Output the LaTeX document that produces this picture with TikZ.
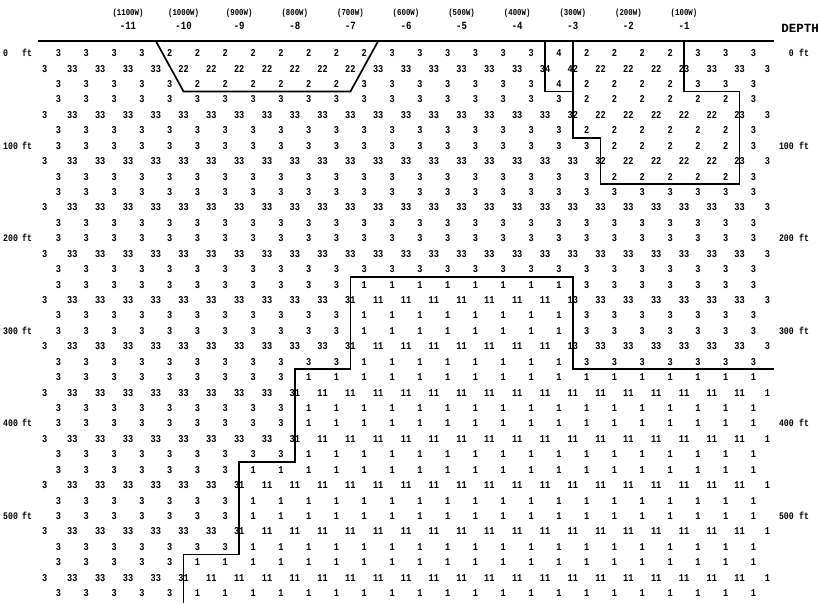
\documentclass[tikz,border=0pt]{standalone}
\usepackage{fontspec}
\setmonofont{Liberation Mono}
\newfontfamily\cellfont{Liberation Mono}[FakeStretch=0.82]
\newcounter{colidx}
% S row: element values (26 columns), #2 = list of value/count
\newcommand\Srow[2]{%
  \setcounter{colidx}{0}%
  \foreach \v/\n in {#2}{%
    \foreach \i in {1,...,\n}{%
      \node[cell] (s#1c\arabic{colidx}) at ({58.5+27.8*\arabic{colidx}},{53+15.43*#1}) {\v};%
      \stepcounter{colidx}%
    }%
  }%
}
% D row: node pair values (27 columns)
\newcommand\Drow[2]{%
  \setcounter{colidx}{0}%
  \foreach \v/\n in {#2}{%
    \foreach \i in {1,...,\n}{%
      \node[cell] (d#1c\arabic{colidx}) at ({44.6+27.8*\arabic{colidx}},{53+15.43*#1}) {\v};%
      \stepcounter{colidx}%
    }%
  }%
}
\tikzset{
  cell/.style={font=\cellfont\bfseries\fontsize{10.5}{10.5}\selectfont, inner sep=0pt, text height=7.2pt, text depth=0pt, anchor=center},
  lab/.style={font=\cellfont\bfseries\fontsize{10}{10}\selectfont, inner sep=0pt, text height=7pt, text depth=0pt},
  hdr/.style={font=\cellfont\bfseries\fontsize{9}{9}\selectfont, inner sep=0pt},
  hdrnum/.style={font=\cellfont\bfseries\fontsize{11}{11}\selectfont, inner sep=0pt},
  boundary/.style={line width=1.7pt, line join=miter, black}
}
\begin{document}
\begin{tikzpicture}[x=1pt,y=-1pt]
\fill[white] (0,0) rectangle (819,603);
\useasboundingbox (0,0) rectangle (819,603);
% column headers
\foreach \lab/\num [count=\j from 0] in {1100/11,1000/10,900/9,800/8,700/7,600/6,500/5,400/4,300/3,200/2,100/1}{
  \node[hdr] (h\j) at ({44.6+27.8*(3+2*\j)},13) {(\lab W)};
  \node[hdrnum] (hn\j) at ({44.6+27.8*(3+2*\j)},26) {-\num};
}
\node[font=\ttfamily\bfseries\fontsize{12.5}{12.5}\selectfont, inner sep=0pt, anchor=east] (depth) at (819,28) {DEPTH};
% depth labels
\foreach \d/\r in {0/0,100/6,200/12,300/18,400/24,500/30}{
  \node[lab, anchor=west] (dl\r) at (3,{53+15.43*\r}) {\d};
  \node[lab, anchor=west] (dlf\r) at (22,{53+15.43*\r}) {ft};
  \node[lab, anchor=east] (dr\r) at (794,{53+15.43*\r}) {\d};
  \node[lab, anchor=west] (drf\r) at (799,{53+15.43*\r}) {ft};
}
% grid of values
\Srow{0}{3/4,2/8,3/6,4/1,2/4,3/3}
\Drow{1}{3/1,33/4,22/7,33/6,34/1,42/1,22/3,23/1,33/2,3/1}
\Srow{2}{3/5,2/6,3/7,4/1,2/4,3/3}
\Srow{3}{3/19,2/6,3/1}
\Drow{4}{3/1,33/18,32/1,22/5,23/1,3/1}
\Srow{5}{3/19,2/6,3/1}
\Srow{6}{3/20,2/5,3/1}
\Drow{7}{3/1,33/19,32/1,22/4,23/1,3/1}
\Srow{8}{3/20,2/5,3/1}
\Srow{9}{3/26}
\Drow{10}{3/1,33/25,3/1}
\Srow{11}{3/26}
\Srow{12}{3/26}
\Drow{13}{3/1,33/25,3/1}
\Srow{14}{3/26}
\Srow{15}{3/11,1/8,3/7}
\Drow{16}{3/1,33/10,31/1,11/7,13/1,33/6,3/1}
\Srow{17}{3/11,1/8,3/7}
\Srow{18}{3/11,1/8,3/7}
\Drow{19}{3/1,33/10,31/1,11/7,13/1,33/6,3/1}
\Srow{20}{3/11,1/8,3/7}
\Srow{21}{3/9,1/17}
\Drow{22}{3/1,33/8,31/1,11/16,1/1}
\Srow{23}{3/9,1/17}
\Srow{24}{3/9,1/17}
\Drow{25}{3/1,33/8,31/1,11/16,1/1}
\Srow{26}{3/9,1/17}
\Srow{27}{3/7,1/19}
\Drow{28}{3/1,33/6,31/1,11/18,1/1}
\Srow{29}{3/7,1/19}
\Srow{30}{3/7,1/19}
\Drow{31}{3/1,33/6,31/1,11/18,1/1}
\Srow{32}{3/7,1/19}
\Srow{33}{3/5,1/21}
\Drow{34}{3/1,33/4,31/1,11/20,1/1}
\Srow{35}{3/5,1/21}
% boundaries  (X(k)=44.6+27.8k ; Y(r)=53+15.43r)
\def\Top{41}
\draw[boundary] (38,\Top) -- (774,\Top);
% excavated trapezoid
\draw[boundary] ({44.6+27.8*4},\Top) -- ({44.6+27.8*5},{53+15.43*2.5}) -- ({44.6+27.8*11},{53+15.43*2.5}) -- ({44.6+27.8*12},\Top);
% small box of material 4
\draw[boundary] ({44.6+27.8*18},\Top) -- ({44.6+27.8*18},{53+15.43*2.5}) -- ({44.6+27.8*19},{53+15.43*2.5});
% material 2 zone on the right
\draw[boundary] ({44.6+27.8*19},\Top) -- ({44.6+27.8*19},{53+15.43*5.5}) -- ({44.6+27.8*20},{53+15.43*5.5})
  -- ({44.6+27.8*20},{53+15.43*8.5}) -- ({44.6+27.8*25},{53+15.43*8.5}) -- ({44.6+27.8*25},{53+15.43*2.5})
  -- ({44.6+27.8*23},{53+15.43*2.5}) -- ({44.6+27.8*23},\Top);
% material 1 zone
\draw[boundary] ({44.6+27.8*11},{53+15.43*14.5}) -- ({44.6+27.8*19},{53+15.43*14.5}) -- ({44.6+27.8*19},{53+15.43*20.5}) -- (774,{53+15.43*20.5});
\draw[boundary] ({44.6+27.8*11},{53+15.43*14.5}) -- ({44.6+27.8*11},{53+15.43*20.5}) -- ({44.6+27.8*9},{53+15.43*20.5})
  -- ({44.6+27.8*9},{53+15.43*26.5}) -- ({44.6+27.8*7},{53+15.43*26.5}) -- ({44.6+27.8*7},{53+15.43*32.5})
  -- ({44.6+27.8*5},{53+15.43*32.5}) -- ({44.6+27.8*5},603);
\end{tikzpicture}
\end{document}
